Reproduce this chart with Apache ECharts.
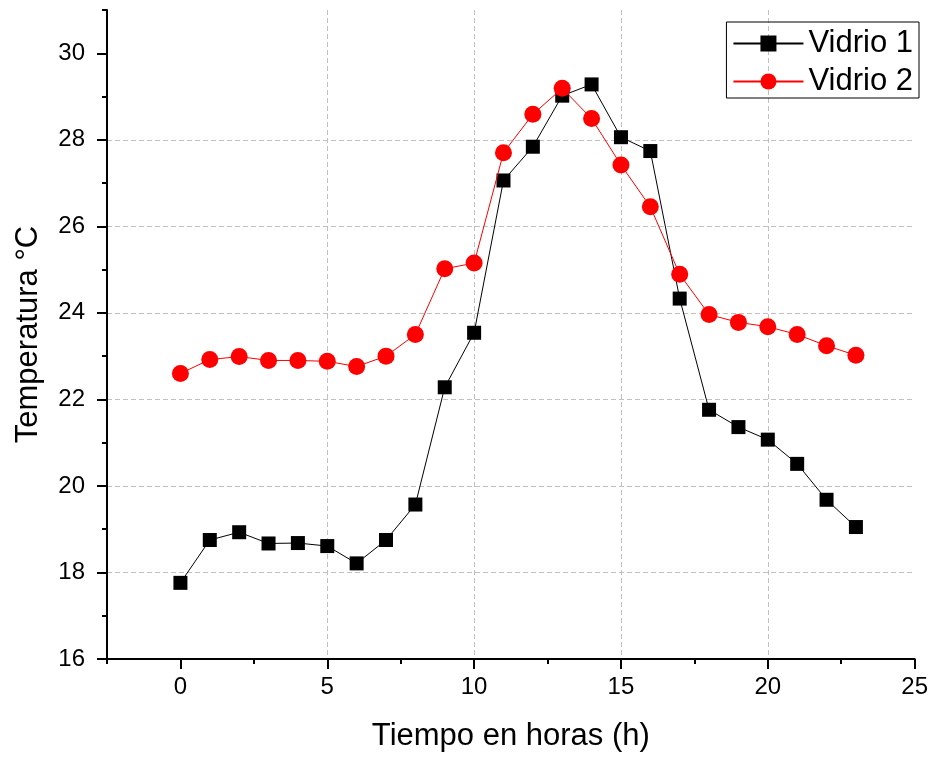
<!DOCTYPE html>
<html>
<head>
<meta charset="utf-8">
<script src="https://cdn.jsdelivr.net/npm/echarts@6/dist/echarts.min.js"></script>
<style>
html,body{margin:0;padding:0;background:#fff;}
#main{width:931px;height:759px;}
</style>
</head>
<body>
<div id="main"></div>
<script>
const hours = [0,1,2,3,4,5,6,7,8,9,10,11,12,13,14,15,16,17,18,19,20,21,22,23];
const vidrio1 = [17.76,18.75,18.93,18.67,18.68,18.61,18.21,18.75,19.57,22.28,23.54,27.06,27.84,29.02,29.28,28.06,27.74,24.33,21.76,21.36,21.07,20.51,19.68,19.05];
const vidrio2 = [22.60,22.92,22.99,22.90,22.90,22.88,22.76,23.00,23.50,25.02,25.15,27.70,28.59,29.19,28.49,27.42,26.45,24.89,23.96,23.78,23.68,23.50,23.24,23.02];
const xMajorTicks = [0,5,10,15,20,25];
const xMinorTicks = [-2.5,2.5,7.5,12.5,17.5,22.5];
const yMajorTicks = [16,18,20,22,24,26,28,30];
const yMinorTicks = [17,19,21,23,25,27,29,31];
const seriesNames = ['Vidrio 1','Vidrio 2'];
const xTitle = 'Tiempo en horas (h)';
const yTitle = 'Temperatura °C';

const FONT = "'Liberation Sans', Arial, sans-serif";
const chart = echarts.init(document.getElementById('main'), null, {renderer:'canvas'});
const splitStyle = {show:true, showMinLine:false, showMaxLine:false, lineStyle:{color:'#c0c0c0', type:[5,3], width:1}};
const axisLineStyle = {show:true, onZero:false, lineStyle:{color:'#000', width:2}};

chart.setOption({
  backgroundColor:'#fff',
  animation:false,
  grid:{left:107, right:15, top:10, bottom:100, containLabel:false},
  legend:{
    data:seriesNames,
    orient:'vertical',
    right:12, top:22,
    itemWidth:70, itemHeight:20, itemGap:7,
    padding:[6,6,1,6],
    borderColor:'#000', borderWidth:1,
    textStyle:{fontSize:31, color:'#000', fontFamily:FONT}
  },
  xAxis:[{
    type:'value', min:-2.5, max:25, interval:2.5, position:'bottom',
    axisLine:axisLineStyle,
    axisTick:{show:true, customValues:xMajorTicks, length:10, lineStyle:{color:'#000', width:2}},
    axisLabel:{show:true, customValues:xMajorTicks, fontSize:24, color:'#000', fontFamily:FONT, margin:16},
    splitLine:splitStyle,
    name:xTitle, nameLocation:'middle', nameGap:62,
    nameTextStyle:{fontSize:31, color:'#000', fontFamily:FONT}
  },{
    type:'value', min:-2.5, max:25, position:'bottom',
    axisLine:{show:false, onZero:false},
    axisTick:{show:true, customValues:xMinorTicks, length:5, lineStyle:{color:'#000', width:2}},
    axisLabel:{show:false},
    splitLine:{show:false}
  }],
  yAxis:[{
    type:'value', min:16, max:31, interval:1, position:'left',
    axisLine:axisLineStyle,
    axisTick:{show:true, customValues:yMajorTicks, length:10, lineStyle:{color:'#000', width:2}},
    axisLabel:{show:true, customValues:yMajorTicks, fontSize:24, color:'#000', fontFamily:FONT, margin:22},
    splitLine:splitStyle,
    name:yTitle, nameLocation:'middle', nameGap:63,
    nameTextStyle:{fontSize:31, color:'#000', fontFamily:FONT}
  },{
    type:'value', min:16, max:31, position:'left',
    axisLine:{show:false, onZero:false},
    axisTick:{show:true, customValues:yMinorTicks, length:5, lineStyle:{color:'#000', width:2}},
    axisLabel:{show:false},
    splitLine:{show:false}
  }],
  series:[{
    name:seriesNames[0], type:'line', xAxisIndex:0, yAxisIndex:0,
    data:hours.map((h,i)=>[h, vidrio1[i]]),
    symbol:'rect', symbolSize:14,
    lineStyle:{color:'#000', width:1},
    itemStyle:{color:'#000'},
    z:3
  },{
    name:seriesNames[1], type:'line', xAxisIndex:0, yAxisIndex:0,
    data:hours.map((h,i)=>[h, vidrio2[i]]),
    symbol:'circle', symbolSize:17,
    lineStyle:{color:'#ff0000', width:1},
    itemStyle:{color:'#ff0000'},
    z:4
  }]
});
</script>
</body>
</html>
